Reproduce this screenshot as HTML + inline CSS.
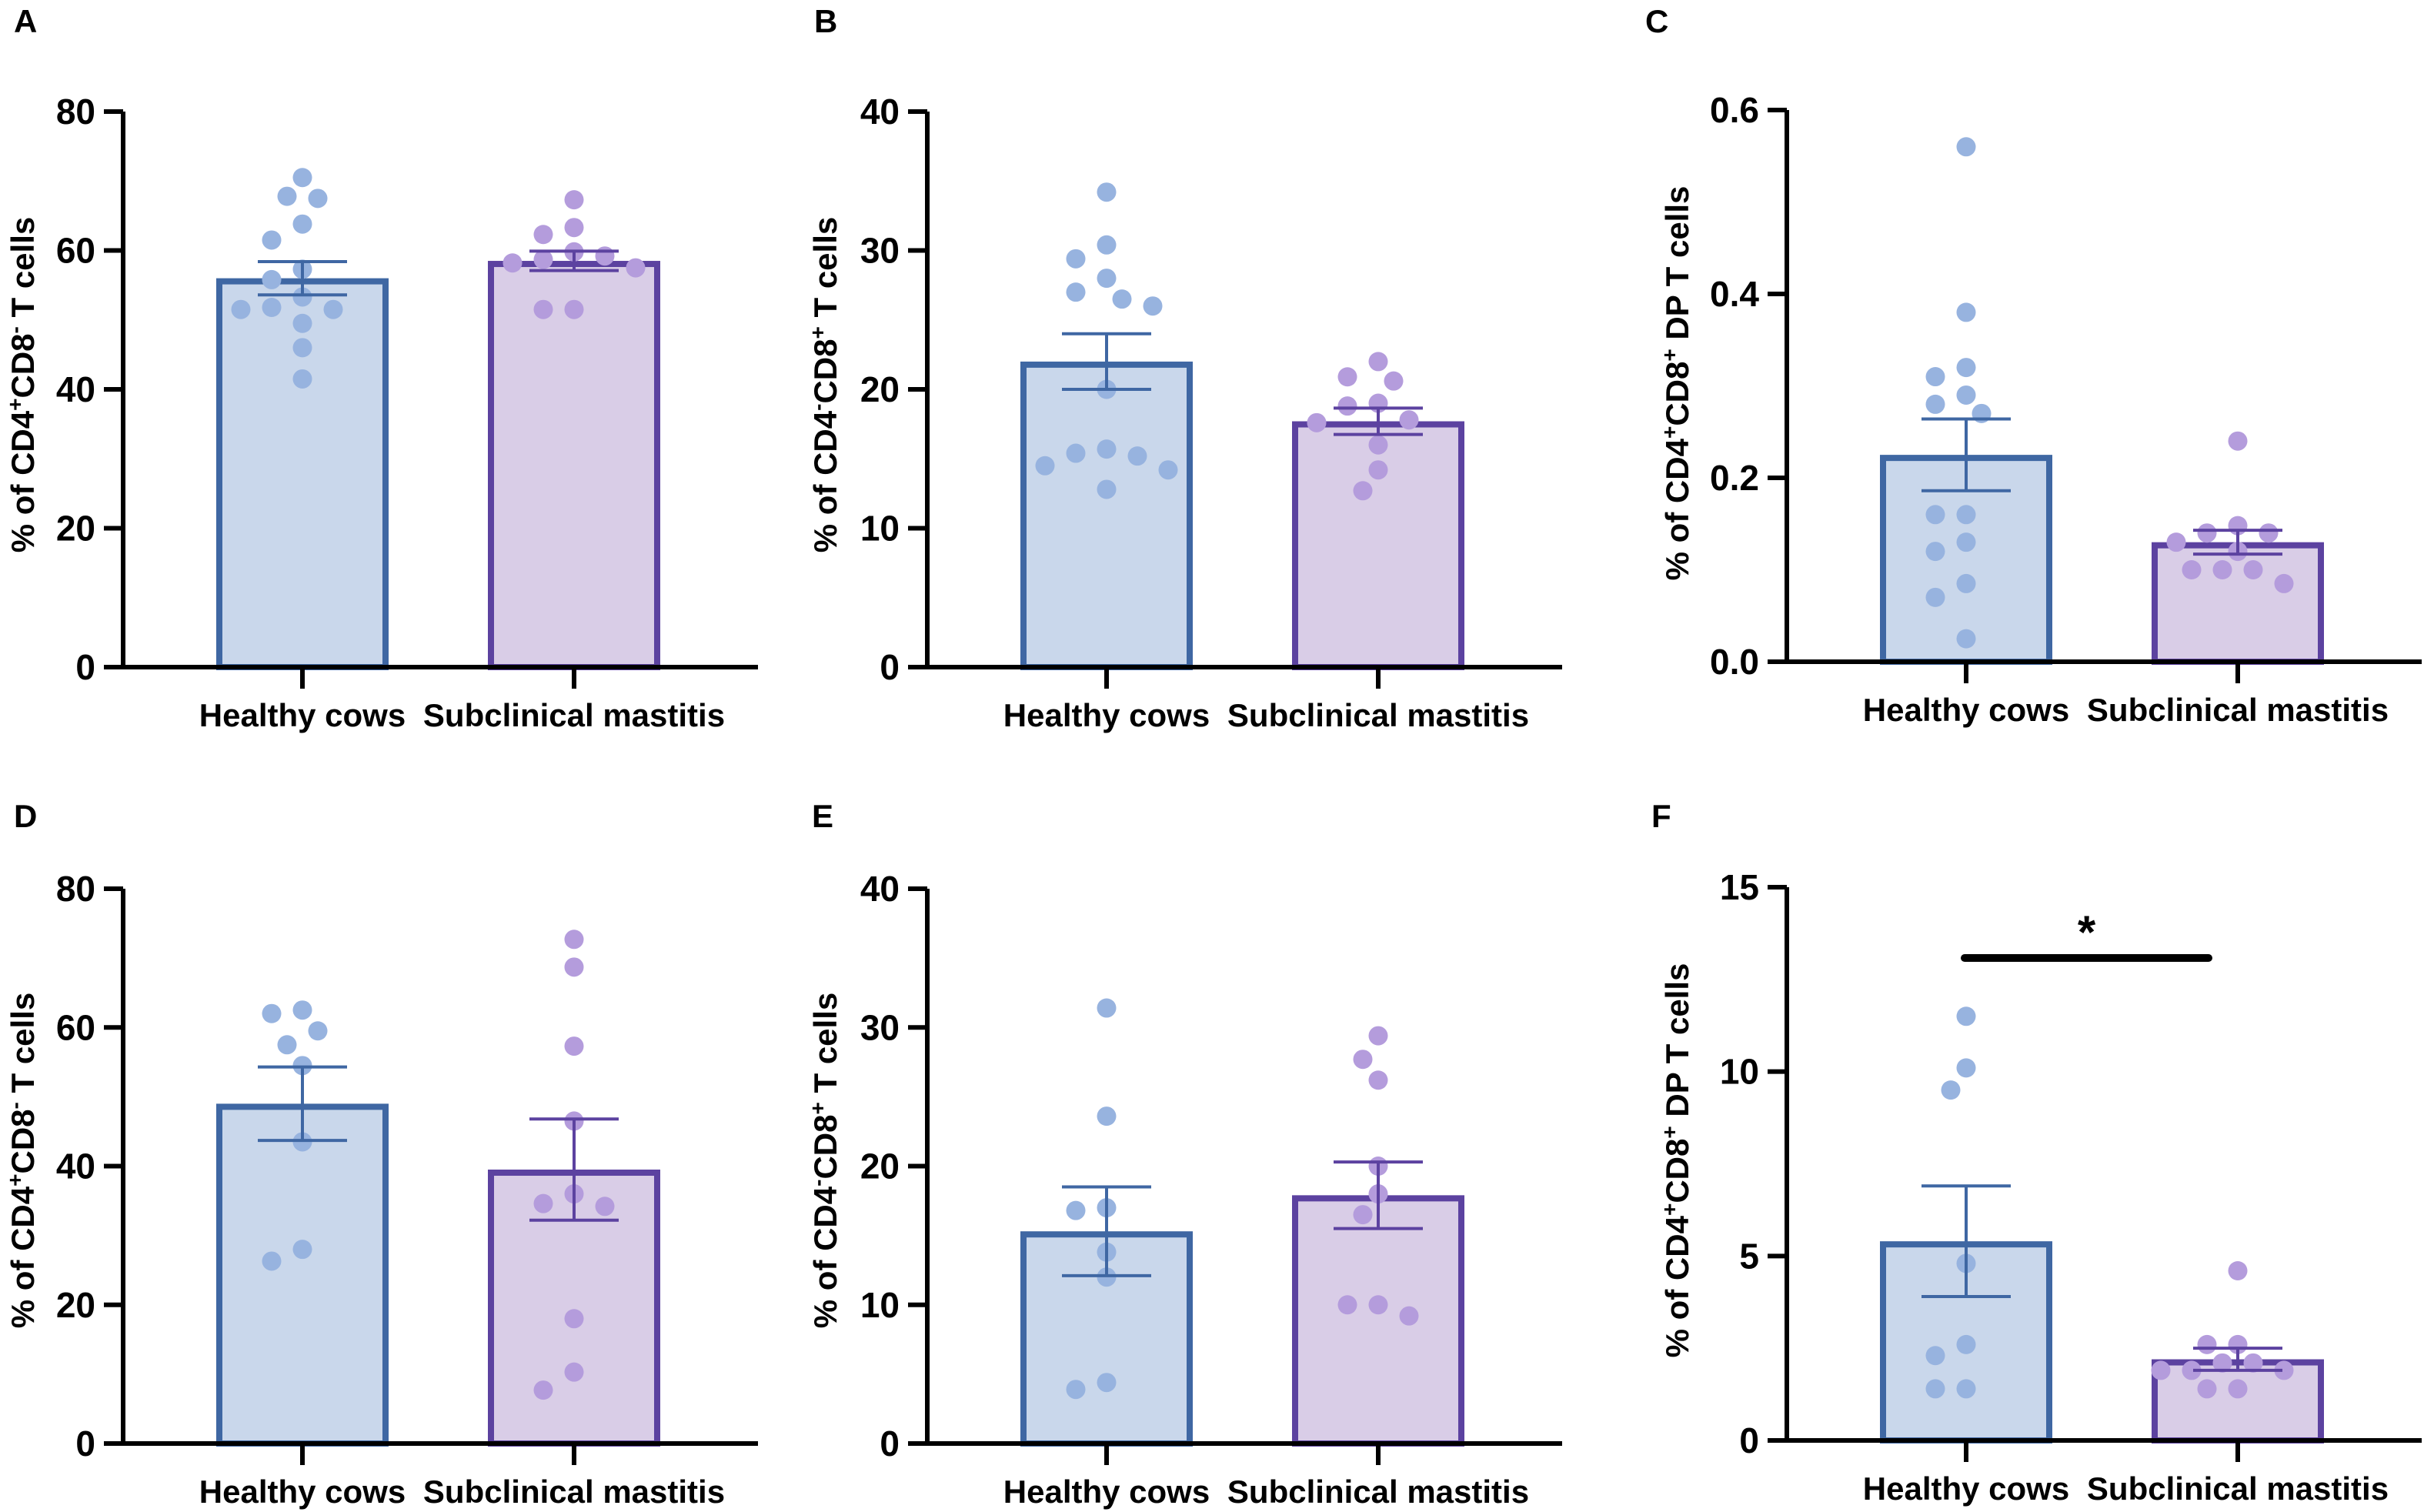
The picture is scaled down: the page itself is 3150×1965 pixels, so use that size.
<!DOCTYPE html>
<html><head><meta charset="utf-8"><style>
html,body{margin:0;padding:0;background:#fff}
svg{display:block;font-family:"Liberation Sans",Arial,sans-serif;font-weight:bold}
</style></head><body>
<svg id="fig" width="3150" height="1965" viewBox="0 0 3150 1965" xmlns="http://www.w3.org/2000/svg"></svg>
<script>
const categories = ["Healthy cows", "Subclinical mastitis"];
const panelLetters = ["A","B","C","D","E","F"];
const yMaxes = [80, 40, 0.6, 80, 40, 15];
const yTickLabels = [["0","20","40","60","80"],["0","10","20","30","40"],["0.0","0.2","0.4","0.6"],["0","20","40","60","80"],["0","10","20","30","40"],["0","5","10","15"]];
const meansHealthy = [56, 22, 0.225, 49, 15.3, 5.4];
const meansSub = [58.5, 17.7, 0.13, 39.5, 17.9, 2.2];
const semHealthy = [2.4, 2.0, 0.039, 5.3, 3.2, 1.5];
const semSub = [1.4, 0.95, 0.013, 7.3, 2.4, 0.3];
const ptsHealthy = [
 [70.5,67.5,67.8,63.8,61.5,57.3,55.8,53.3,51.5,51.8,51.5,49.5,46,41.5],
 [34.2,30.4,29.4,28,27,26.5,26,20,15.7,15.4,15.2,14.5,14.2,12.8],
 [0.56,0.38,0.32,0.31,0.29,0.28,0.27,0.16,0.16,0.13,0.12,0.085,0.07,0.025],
 [62.5,62,59.5,57.5,54.5,43.5,28,26.3],
 [31.4,23.6,17,16.8,13.8,12,4.4,3.9],
 [11.5,10.1,9.5,4.8,2.6,2.3,1.4,1.4]];
const ptsSub = [
 [67.3,63.3,62.3,59.8,59.2,58.7,58.2,57.5,51.5,51.5],
 [22,20.9,20.6,19,18.8,17.8,17.6,16,14.2,12.7],
 [0.24,0.148,0.14,0.14,0.13,0.12,0.1,0.1,0.1,0.085],
 [72.7,68.7,57.3,46.5,36,34.6,34.2,18,10.3,7.7],
 [29.4,27.7,26.2,20,18,16.5,10,10,9.2],
 [4.6,2.6,2.6,2.1,2.1,1.9,1.9,1.9,1.4,1.4]];
const titleMid = [["CD4","+","CD8","-"],["CD4","-","CD8","+"],["CD4","+","CD8","+"]];

const NS="http://www.w3.org/2000/svg";
const svg=document.getElementById('fig');
function mk(tag,attrs,parent){const e=document.createElementNS(NS,tag);for(const k in attrs)e.setAttribute(k,attrs[k]);(parent||svg).appendChild(e);return e;}

const layouts=[
 {ax:160,y0:867,yt:145,lx:18,ly:42,tx:44,ty:500},
 {ax:1205,y0:867,yt:145,lx:1058,ly:42,tx:1087,ty:500},
 {ax:2322,y0:860,yt:143,lx:2138,ly:42,tx:2194,ty:498},
 {ax:160,y0:1876,yt:1155,lx:18,ly:1075,tx:44,ty:1508},
 {ax:1205,y0:1876,yt:1155,lx:1055,ly:1075,tx:1087,ty:1508},
 {ax:2322,y0:1872,yt:1153,lx:2146,ly:1075,tx:2194,ty:1508}];

const C={hf:"#c9d7eb",hs:"#3f67a3",hd:"#97b3df",sf:"#d9cde7",ss:"#5c42a0",sd:"#b49cdc"};

function swarm(vals,cx,ys,r){
  const placed=[];const out=[];
  const order=vals.map((v,i)=>i).sort((a,b)=>vals[b]-vals[a]);
  for(const i of order){
    const y=ys(vals[i]);let x=cx;
    const cands=[0];for(let k=1;k<10;k++){cands.push(-k*r*1.6,k*r*1.6);}
    for(const o of cands){const tx=cx+o;if(placed.every(p=>Math.hypot(p[0]-tx,p[1]-y)>=2*r+6)){x=tx;break;}}
    placed.push([x,y]);out.push([x,y]);
  }
  return out;
}

for(let p=0;p<6;p++){
  const L=layouts[p];
  const g=mk('g',{});
  
  
  const ys=v=>L.y0-(v/yMaxes[p])*(L.y0-L.yt);
  const cx=[L.ax+233,L.ax+586];
  const bw=224;
  const lt=mk('text',{x:L.lx,y:L.ly,'font-size':42},g);lt.textContent=panelLetters[p];
  
  
  const groups=[[meansHealthy[p],semHealthy[p],ptsHealthy[p],C.hf,C.hs,C.hd,'healthy'],[meansSub[p],semSub[p],ptsSub[p],C.sf,C.ss,C.sd,'subclinical']];
  groups.forEach((gr,i)=>{
    const [m,s,pts,f,st,dc,nm]=gr;
    const b=mk('rect',{x:cx[i]-bw/2+4,y:ys(m)+4,width:bw-8,height:L.y0-ys(m)-4,fill:f,stroke:st,'stroke-width':8},g);
    
    
    swarm(pts,cx[i],ys,12.5).forEach(q=>{
      const c=mk('circle',{cx:q[0],cy:q[1],r:12.5,fill:dc},g);
      
      
    });
    const eb=mk('path',{d:`M${cx[i]-58},${ys(m+s)}H${cx[i]+58}M${cx[i]-58},${ys(m-s)}H${cx[i]+58}M${cx[i]},${ys(m+s)}V${ys(m-s)}`,stroke:st,'stroke-width':4,fill:'none'},g);
    
    
    const tk=mk('line',{x1:cx[i],x2:cx[i],y1:L.y0,y2:L.y0+28,stroke:'#000','stroke-width':6},g);
    
    
    const xl=mk('text',{x:cx[i],y:L.y0+77,'font-size':42,'text-anchor':'middle'},g);xl.textContent=categories[i];
    
    
  });
  const ax=mk('path',{d:`M${L.ax},${L.yt}V${L.y0}M${L.ax-25},${L.y0}H${L.ax+825}`,stroke:'#000','stroke-width':6,fill:'none'},g);
  
  
  const tl=yTickLabels[p];
  tl.forEach(t=>{
    const y=ys(parseFloat(t));
    const tk=mk('line',{x1:L.ax-25,x2:L.ax,y1:y,y2:y,stroke:'#000','stroke-width':6},g);
    
    
    const tx=mk('text',{x:L.ax-36,y:y+16,'font-size':46,'text-anchor':'end'},g);tx.textContent=t;
    
    
  });
  const tm=titleMid[p%3];
  const yt=mk('text',{transform:`translate(${L.tx},${L.ty}) rotate(-90)`,'font-size':42,'text-anchor':'middle'},g);
  
  
  const parts=[["% of "+tm[0],0],[tm[1],1],[tm[2],0],[tm[3],1],[(p%3==2?" DP T cells":" T cells"),0]];
  let prevSup=false;
  parts.forEach(([t,sup])=>{
    const ts=document.createElementNS(NS,'tspan');ts.textContent=t;
    if(sup){ts.setAttribute('dy','-15');ts.setAttribute('font-size','28');}
    else if(prevSup){ts.setAttribute('dy','15');}
    prevSup=!!sup;yt.appendChild(ts);
  });
  if(p===5){
    const sb=mk('line',{x1:cx[0]-2,x2:cx[1]-38,y1:1245,y2:1245,stroke:'#000','stroke-width':10,'stroke-linecap':'round'},g);
    
    
    const st=mk('text',{x:(cx[0]+cx[1]-40)/2,y:1232,'font-size':60,'text-anchor':'middle'},g);st.textContent='*';
    
    
  }
}
</script>
</body></html>
